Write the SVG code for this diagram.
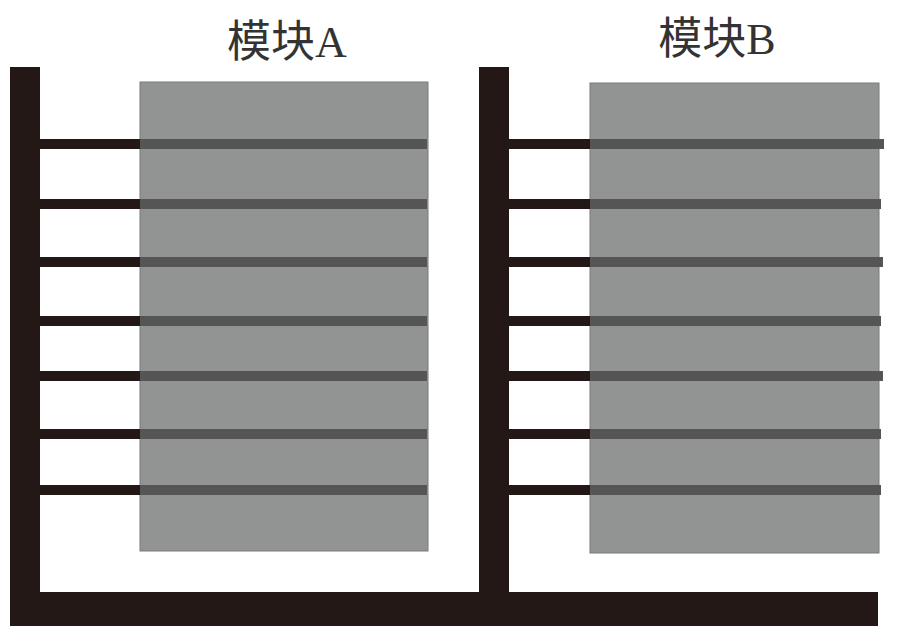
<svg xmlns="http://www.w3.org/2000/svg" width="898" height="635" viewBox="0 0 898 635">
<style>
.bar{fill:#231815}
.box{fill:#929393;stroke:#7a7a7a;stroke-width:1}
.lead{stroke:#231815;stroke-width:10}
.fin{stroke:#555555;stroke-width:10}
.lbl{font-family:"Liberation Serif","Noto Sans CJK SC",serif;font-size:44px;fill:#333333;text-anchor:middle}
</style>
<rect width="898" height="635" fill="#ffffff"/>
<g id="frame">
<rect class="bar" x="10" y="67" width="30" height="525"/>
<rect class="bar" x="479" y="67" width="30" height="525"/>
<rect class="bar" x="10" y="592" width="868" height="34"/>
</g>
<g id="moduleA">
<rect class="box" x="140" y="82" width="288" height="469"/>
<text class="lbl" x="287" y="57">模块A</text>
</g>
<g id="moduleB">
<rect class="box" x="590" y="83" width="289" height="470"/>
<text class="lbl" x="717" y="54">模块B</text>
</g>
<g id="connectors">
<g class="lead">
<line x1="40" y1="144" x2="140" y2="144"/>
<line x1="40" y1="204" x2="140" y2="204"/>
<line x1="40" y1="262" x2="140" y2="262"/>
<line x1="40" y1="321" x2="140" y2="321"/>
<line x1="40" y1="376" x2="140" y2="376"/>
<line x1="40" y1="434" x2="140" y2="434"/>
<line x1="40" y1="490" x2="140" y2="490"/>
<line x1="509" y1="144" x2="590" y2="144"/>
<line x1="509" y1="204" x2="590" y2="204"/>
<line x1="509" y1="262" x2="590" y2="262"/>
<line x1="509" y1="321" x2="590" y2="321"/>
<line x1="509" y1="376" x2="590" y2="376"/>
<line x1="509" y1="434" x2="590" y2="434"/>
<line x1="509" y1="490" x2="590" y2="490"/>
</g>
<g class="fin">
<line x1="140" y1="144" x2="427" y2="144"/>
<line x1="140" y1="204" x2="427" y2="204"/>
<line x1="140" y1="262" x2="427" y2="262"/>
<line x1="140" y1="321" x2="427" y2="321"/>
<line x1="140" y1="376" x2="427" y2="376"/>
<line x1="140" y1="434" x2="427" y2="434"/>
<line x1="140" y1="490" x2="427" y2="490"/>
<line x1="590" y1="144" x2="884" y2="144"/>
<line x1="590" y1="204" x2="881" y2="204"/>
<line x1="590" y1="262" x2="883" y2="262"/>
<line x1="590" y1="321" x2="881" y2="321"/>
<line x1="590" y1="376" x2="883" y2="376"/>
<line x1="590" y1="434" x2="881" y2="434"/>
<line x1="590" y1="490" x2="881" y2="490"/>
</g>
</g>
</svg>
